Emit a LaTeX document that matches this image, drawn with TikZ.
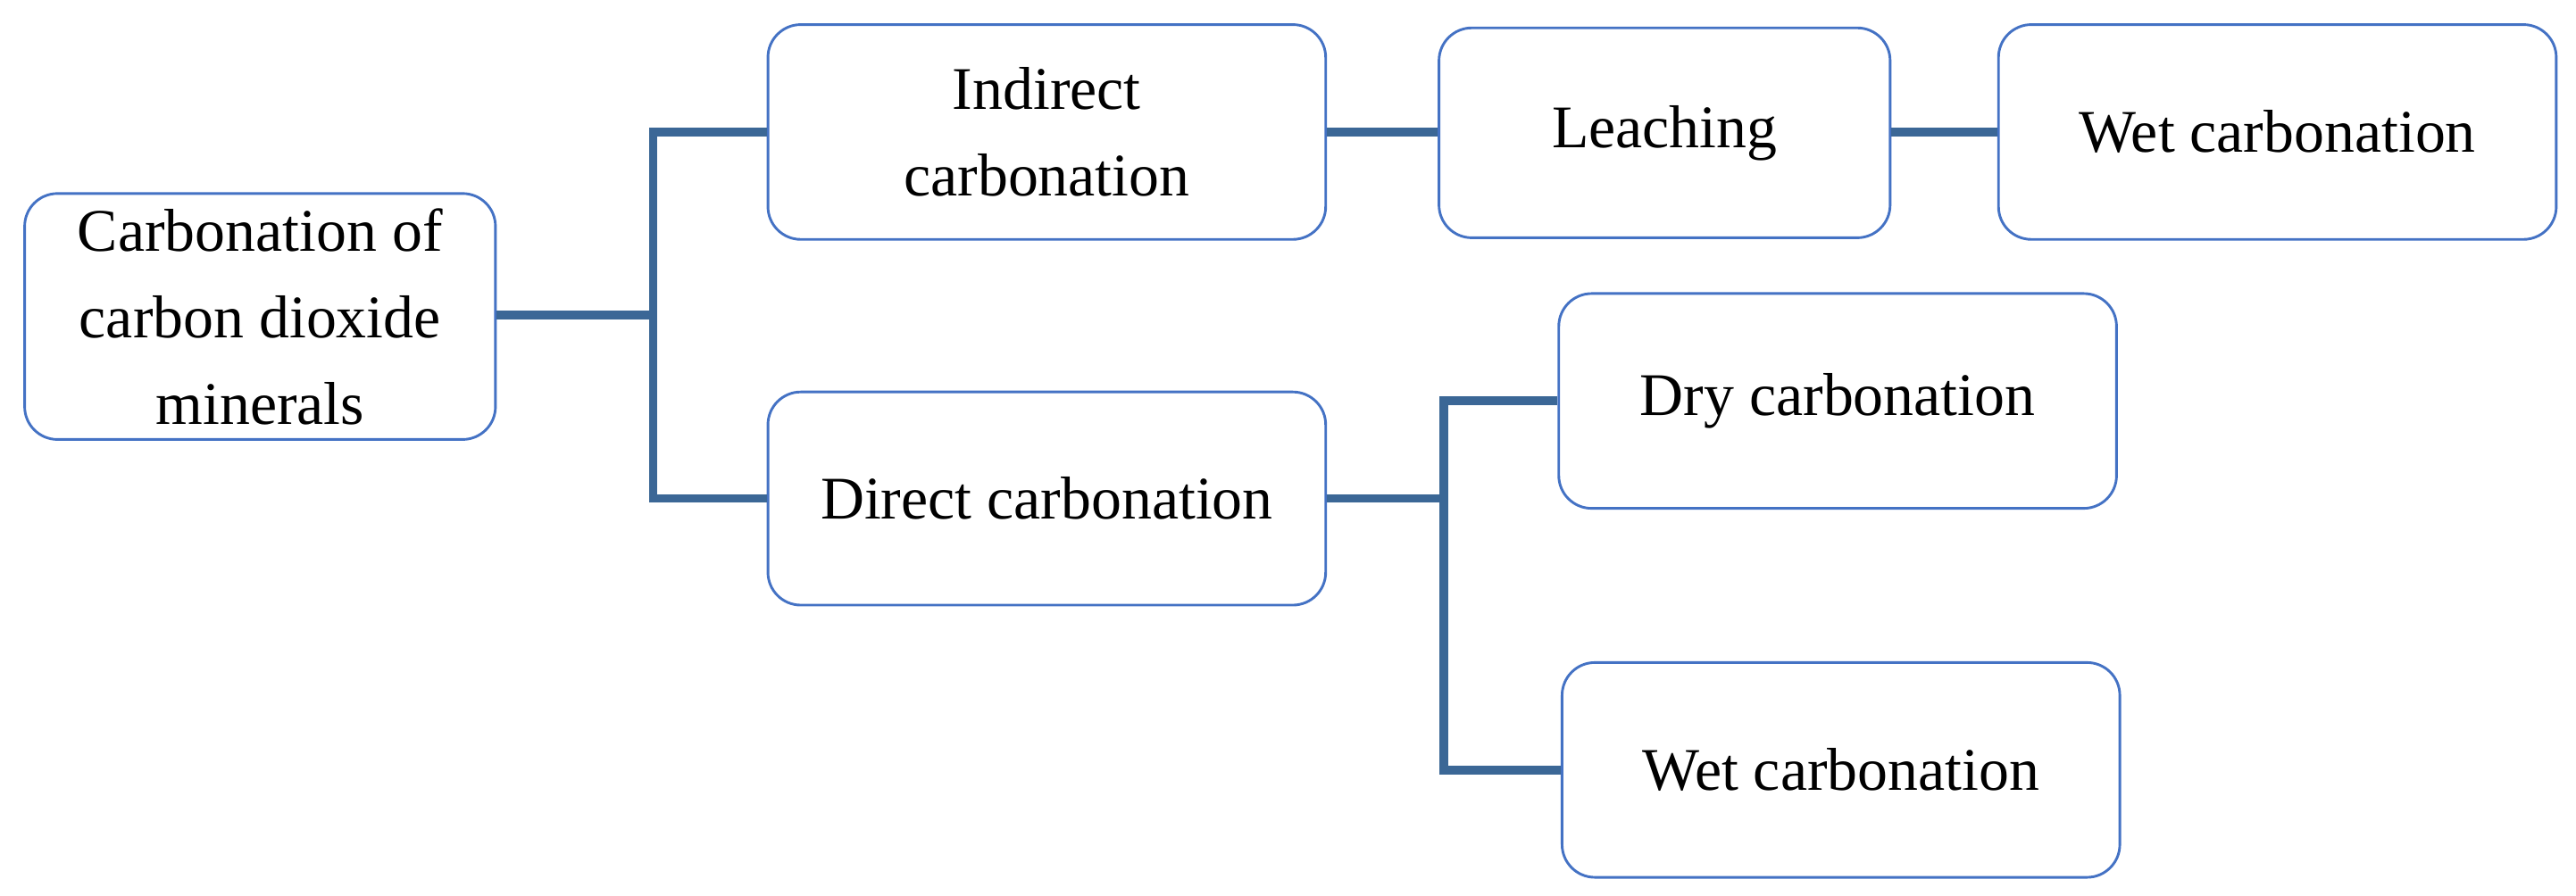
\documentclass[tikz,border=0pt]{standalone}
\usepackage{fontspec}
\setmainfont{Liberation Serif}
\begin{document}
\begin{tikzpicture}[x=0.02cm,y=-0.02cm,
  box/.style={draw=boxblue,line width=0.9pt,rounded corners=0.4cm,align=center,inner sep=0pt,
    font=\fontsize{21}{30}\selectfont},
  conn/.style={draw=linkblue,line width=3pt}]
\definecolor{boxblue}{HTML}{4472C4}
\definecolor{linkblue}{HTML}{3B6796}
\useasboundingbox (0,0) rectangle (1570,546);
\node[box,minimum width=5.74cm,minimum height=3cm] (root) at (158.5,193) {Carbonation of\\carbon dioxide\\minerals};
\node[box,minimum width=6.8cm,minimum height=2.62cm] (ind) at (638,80.5) {Indirect\\carbonation};
\node[box,minimum width=5.5cm,minimum height=2.56cm] (lea) at (1014.5,81) {Leaching};
\node[box,minimum width=6.8cm,minimum height=2.62cm] (wet1) at (1388,80.5) {Wet carbonation};
\node[box,minimum width=6.8cm,minimum height=2.6cm] (dir) at (638,304) {Direct carbonation};
\node[box,minimum width=6.8cm,minimum height=2.62cm] (dry) at (1120,244.5) {Dry carbonation};
\node[box,minimum width=6.8cm,minimum height=2.62cm] (wet2) at (1122,469.5) {Wet carbonation};
\coordinate (t1) at (398,192);
\coordinate (t2) at (880,304);
\draw[conn] (root.east |- t1) -- (t1);
\draw[conn] (ind.west) -| (t1) |- (dir.west);
\draw[conn] (ind.east) -- (lea.west |- ind.east);
\draw[conn] (lea.east |- wet1.west) -- (wet1.west);
\draw[conn] (dir.east) -- (t2);
\draw[conn] (dry.west) -| (t2) |- (wet2.west);
\end{tikzpicture}
\end{document}
